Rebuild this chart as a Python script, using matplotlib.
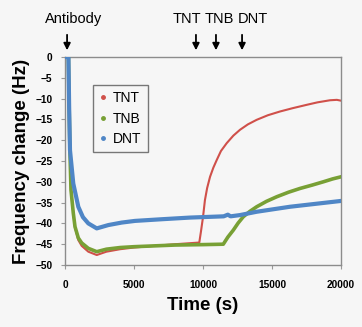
import matplotlib
matplotlib.use('Agg')
import matplotlib.pyplot as plt
from matplotlib.lines import Line2D

plt.rcParams['font.family'] = ['Liberation Sans', 'DejaVu Sans']

# TNT (red)
t_tnt = [0, 250, 300, 360, 435, 600, 725, 964, 1210, 1690, 2300, 3000, 4000, 5000, 6500, 8000,
         9730, 9850, 10000, 10140, 10300, 10510, 10750, 10990, 11300, 11720, 12200, 12680, 13250,
         13890, 14700, 15580, 16500, 17510, 18300, 19200, 19700, 20000]
v_tnt = [0, 0, -12, -23, -32, -37.5, -41, -44, -45.4, -46.8, -47.6, -46.8, -46.2, -45.8, -45.4, -45.0,
         -44.6, -42.0, -38.5, -34.4, -31.5, -28.8, -26.6, -24.8, -22.6, -20.7, -18.9, -17.5, -16.2,
         -15.1, -14.0, -13.1, -12.3, -11.5, -10.9, -10.4, -10.3, -10.5]
# TNB (green)
t_tnb = [0, 250, 300, 360, 435, 600, 725, 964, 1210, 1690, 2300, 3000, 4000, 5000, 6500, 8000,
         10000, 11470, 11800, 12200, 12550, 12920, 13400, 13890, 14600, 15340, 16200, 17030,
         17900, 18720, 19400, 20000]
v_tnb = [0, 0, -12, -23, -32, -37.5, -40.8, -43.5, -44.7, -46.0, -46.8, -46.2, -45.8, -45.6, -45.4, -45.2,
         -45.1, -45.0, -43.3, -41.6, -39.9, -38.4, -37.1, -36.0, -34.7, -33.6, -32.5, -31.6,
         -30.8, -30.0, -29.3, -28.8]
# DNT (blue)
t_dnt = [0, 250, 300, 362, 600, 964, 1300, 1690, 2300, 3140, 4110, 5070, 7000, 9060,
         11500, 11800, 12000, 12680, 13890, 16300, 20000]
v_dnt = [0, 0, -12, -22.4, -30.4, -36.0, -38.5, -40.0, -41.2, -40.4, -39.8, -39.4, -39.0, -38.6,
         -38.3, -37.9, -38.3, -38.0, -37.2, -36.0, -34.6]

events = ['Antibody', 'TNT', 'TNB', 'DNT']
event_times = [150, 9490, 10940, 12830]
label_x = [650, 8800, 11190, 13650]

bg = '#f6f6f6'
fig = plt.figure(figsize=(3.62, 3.27), dpi=100, facecolor=bg)
ax = fig.add_axes([65 / 362, 1 - 265 / 327, 276 / 362, 208 / 327], facecolor=bg)

ax.plot(t_tnt, v_tnt, color='#d0504a', lw=1.5, zorder=2)
ax.plot(t_tnb, v_tnb, color='#78a035', lw=2.6, zorder=3)
ax.plot(t_dnt, v_dnt, color='#4f86c6', lw=3.0, zorder=4)

ax.set_xlim(0, 20000)
ax.set_ylim(-50, 0)
ax.set_xticks([0, 5000, 10000, 15000, 20000])
ax.set_yticks(range(-50, 1, 5))
ax.tick_params(axis='both', labelsize=7.3, length=3, color='#999999', width=0.8)
ax.tick_params(axis='x', pad=8)
ax.tick_params(axis='y', pad=6)
for lab in ax.get_xticklabels() + ax.get_yticklabels():
    lab.set_fontweight('bold')
for s in ax.spines.values():
    s.set_color('#8c8c8c')
    s.set_linewidth(1.0)

ax.set_xlabel('Time (s)', fontsize=13.5, fontweight='bold', labelpad=5)
ax.set_ylabel('Frequency change (Hz)', fontsize=13.5, fontweight='bold', labelpad=4)

for name, t, lx in zip(events, event_times, label_x):
    ax.annotate('', xy=(t, 1.019), xytext=(t, 1.12), xycoords=('data', 'axes fraction'),
                arrowprops=dict(arrowstyle='-|>', color='black', lw=1.3, mutation_scale=10))
    ax.text(lx, 1.183, name, transform=ax.get_xaxis_transform(), ha='center', va='center',
            fontsize=10.5)

handles = [Line2D([], [], color=c, marker='o', ls='none', markersize=2.5)
           for c in ['#d0504a', '#78a035', '#4f86c6']]
leg = ax.legend(handles, ['TNT', 'TNB', 'DNT'], loc='upper left', bbox_to_anchor=(0.101, 0.865),
                borderaxespad=0, fontsize=10, handlelength=0.6, handletextpad=0.4,
                labelspacing=0.45, borderpad=0.45, fancybox=False, framealpha=1,
                facecolor=bg, edgecolor='#777777')
leg.get_frame().set_linewidth(1.0)

fig.savefig('out.png', dpi=100, facecolor=bg)
